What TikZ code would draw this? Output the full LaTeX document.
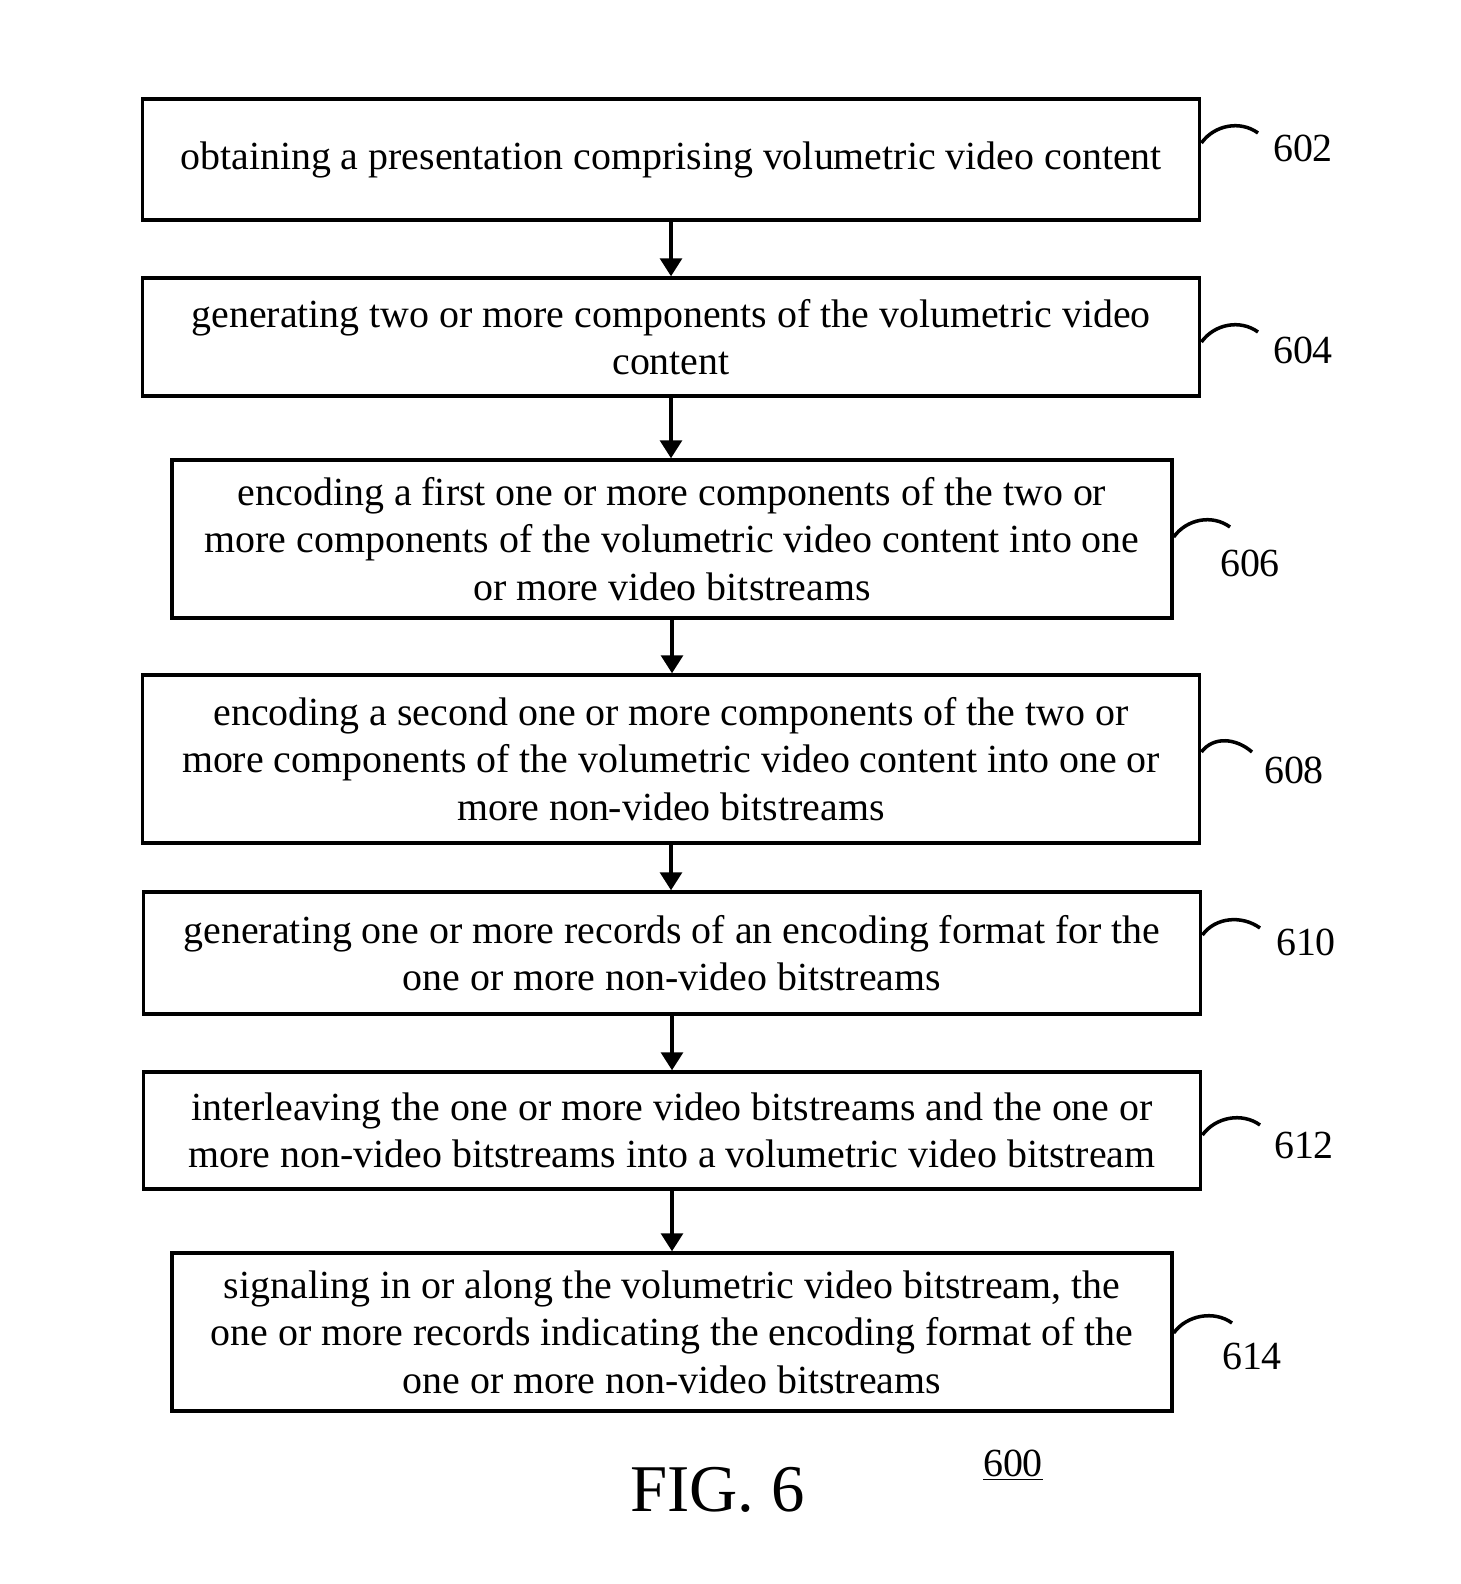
\documentclass[tikz,border=0pt]{standalone}
\usepackage{fontspec}
\setmainfont{Liberation Serif}
\usetikzlibrary{arrows.meta}
\begin{document}
\begin{tikzpicture}[x=0.02cm,y=-0.02cm]
            \tikzstyle{every node}=[inner sep=0pt,align=center,font=\fontsize{22.7}{27}\selectfont]
            \tikzstyle{stepbox}=[draw,line width=2pt,minimum width=21.15cm]
            \tikzstyle{narrowbox}=[draw,line width=2pt,minimum width=20cm]
            \tikzstyle{flow}=[line width=1.8pt,-{Triangle[length=0.36cm,width=0.44cm]}]
            \tikzstyle{hook}=[line width=2pt]
            \useasboundingbox (0,0) rectangle (1460,1584);
            \draw (671,159.5) node [stepbox,minimum height=2.42cm] (b602) {\raisebox{-4pt}{obtaining a presentation comprising volumetric video content}};
            \draw (671,337) node [stepbox,minimum height=2.36cm] (b604) {generating two or more components of the volumetric video\\content};
            \draw (672,539) node [narrowbox,minimum height=3.16cm] (b606) {encoding a first one or more components of the two or\\more components of the volumetric video content into one\\or more video bitstreams};
            \draw (671,759) node [stepbox,minimum height=3.36cm] (b608) {encoding a second one or more components of the two or\\more components of the volumetric video content into one or\\more non-video bitstreams};
            \draw (672,953) node [stepbox,minimum height=2.44cm] (b610) {generating one or more records of an encoding format for the\\one or more non-video bitstreams};
            \draw (672,1130.5) node [stepbox,minimum height=2.34cm] (b612) {interleaving the one or more video bitstreams and the one or\\more non-video bitstreams into a volumetric video bitstream};
            \draw (672,1332) node [narrowbox,minimum height=3.16cm] (b614) {signaling in or along the volumetric video bitstream, the\\one or more records indicating the encoding format of the\\one or more non-video bitstreams};
            \draw[flow] (b602.south) -- (b602.south |- b604.north);
            \draw[flow] (b604.south) -- (b604.south |- b606.north);
            \draw[flow] (b606.south) -- (b606.south |- b608.north);
            \draw[flow] (b608.south) -- (b608.south |- b610.north);
            \draw[flow] (b610.south) -- (b610.south |- b612.north);
            \draw[flow] (b612.south) -- (b612.south |- b614.north);
            % reference numerals
            \draw (1303,148) node (l602) {602};
            \draw (1303,350) node (l604) {604};
            \draw (1250,563) node (l606) {606};
            \draw (1294,770) node (l608) {608};
            \draw (1306,942) node (l610) {610};
            \draw (1304,1145) node (l612) {612};
            \draw (1252,1356) node (l614) {614};
            \coordinate (e602) at (1258,133);
            \coordinate (e604) at (1258,332);
            \coordinate (e606) at (1230,527);
            \coordinate (e608) at (1252,752);
            \coordinate (e610) at (1260,928);
            \coordinate (e612) at (1260,1125);
            \coordinate (e614) at (1232,1323);
            \draw[hook] (b602.east |- 0,143) .. controls +(13,-18) and +(-18,-13) .. (e602);
            \draw[hook] (b604.east |- 0,342) .. controls +(13,-18) and +(-18,-13) .. (e604);
            \draw[hook] (b606.east |- 0,537) .. controls +(13,-18) and +(-18,-13) .. (e606);
            \draw[hook] (b608.east |- 0,752) .. controls +(12,-16) and +(-16,-14) .. (e608);
            \draw[hook] (b610.east |- 0,935) .. controls +(13,-18) and +(-18,-13) .. (e610);
            \draw[hook] (b612.east |- 0,1135) .. controls +(13,-18) and +(-18,-13) .. (e612);
            \draw[hook] (b614.east |- 0,1333) .. controls +(13,-18) and +(-18,-13) .. (e614);
            \draw (717.5,1490) node [font=\fontsize{38}{44}\selectfont] (fig) {FIG. 6};
            \draw (1013,1465) node (l600) {\underline{600}};
        \end{tikzpicture}
\end{document}
